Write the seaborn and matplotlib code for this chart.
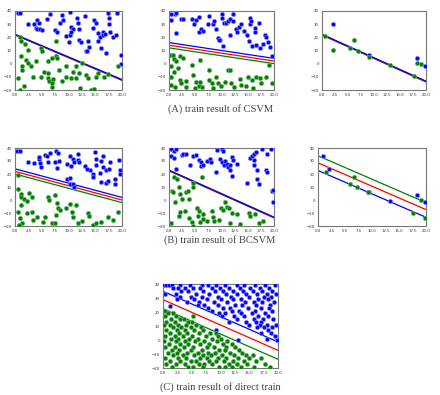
import matplotlib
matplotlib.use("Agg")
import matplotlib.pyplot as plt
import numpy as np
import pandas as pd
import seaborn as sns

# ---- panel (A) left: CSVM, first set ----
a1_blue = [(0.5, 38.2), (0.9, 38.2), (3.5, 29.8), (4.1, 33.1), (4.4, 30.6), (4.0, 27.2),
           (4.2, 26.5), (4.7, 26.0), (5.1, 25.4), (6.5, 37.4), (7.5, 25.7), (7.8, 24.4),
           (8.5, 30.6), (8.7, 36.9), (9.5, 20.9), (10.2, 39.0), (10.0, 16.5), (10.3, 22.1),
           (10.5, 28.0), (10.8, 26.0), (10.5, 24.2), (11.5, 34.9), (11.8, 31.1), (12.0, 26.0),
           (11.9, 18.3), (12.3, 16.3), (13.0, 36.2), (13.6, 17.0), (13.9, 12.4), (14.8, 32.9),
           (15.1, 31.1), (15.5, 23.4), (15.6, 17.0), (15.8, 20.1), (16.4, 23.9), (16.5, 21.6),
           (16.8, 22.6), (17.3, 38.2), (17.5, 34.9), (17.6, 30.3), (17.7, 23.7), (18.4, 20.6),
           (18.8, 22.1), (19.1, 38.2), (19.8, 6.8), (19.8, -0.3), (13.2, 9.9), (13.5, 9.4),
           (16.1, 11.9), (17.1, 8.1), (2.4, 29.8), (9.0, 33.0), (14.5, 27.0), (6.0, 34.0)]
a1_green = [(0.9, 20.1), (1.1, 17.0), (1.9, 15.0), (4.9, 11.9), (5.1, 9.4), (1.1, 5.5),
            (2.1, 3.0), (1.4, -2.1), (1.4, -4.7), (2.4, 0.4), (3.0, -2.1), (3.9, 1.7),
            (3.3, -9.8), (0.6, -11.1), (1.6, -16.7), (0.9, -20.0), (4.9, -9.8), (5.5, -6.0),
            (6.1, -7.2), (6.2, -11.1), (6.4, -13.1), (7.1, -11.8), (7.0, -14.9), (6.9, -17.4),
            (7.7, 5.5), (7.9, 4.3), (7.7, 17.0), (8.3, -4.7), (8.8, -13.1), (9.5, -9.8),
            (9.5, -2.1), (10.5, -11.1), (10.8, -6.0), (11.4, -2.1), (11.4, -11.1), (12.0, -7.2),
            (12.2, -18.7), (12.6, 0.4), (13.3, -8.5), (13.6, -11.1), (14.2, -20.0), (14.7, -19.5),
            (15.1, -9.8), (15.6, -7.2), (16.6, -9.8), (17.3, -8.0), (19.2, -2.1), (7.0, 4.3),
            (2.4, 10.6), (6.1, 1.7)]
a1_lines = [22.3, 22.0, 21.7]   # intercepts blue, red, green
a1_slope = -1.72

# ---- panel (A) middle ----
a2_blue = [(0.3, 38.0), (0.3, 32.9), (1.1, 37.4), (1.4, 38.7), (1.3, 23.4), (2.3, 33.6),
           (2.7, 34.1), (4.4, 33.6), (4.8, 29.8), (5.2, 32.9), (5.8, 35.4), (5.7, 24.2),
           (6.1, 26.0), (6.5, 24.7), (7.6, 36.2), (7.4, 29.8), (8.4, 30.3), (8.6, 32.3),
           (9.0, 26.7), (9.3, 19.6), (9.8, 17.8), (9.5, 17.8), (10.0, 37.4), (10.0, 34.4),
           (10.4, 31.1), (10.9, 31.1), (11.2, 32.3), (11.7, 33.6), (11.6, 22.1), (12.1, 32.3),
           (12.2, 38.0), (12.7, 26.7), (13.0, 24.2), (13.3, 28.0), (13.8, 30.3), (14.3, 24.7),
           (14.9, 22.1), (15.2, 17.5), (15.4, 30.3), (15.5, 34.4), (16.3, 27.2), (16.3, 24.2),
           (15.9, 13.2), (16.5, 13.9), (17.3, 11.9), (17.9, 15.0), (18.2, 22.1), (18.5, 20.1),
           (18.9, 16.5), (19.2, 12.4), (19.7, 5.5), (17.1, 31.1), (15.7, 32.3), (10.3, 13.2)]
a2_green = [(0.3, 6.8), (0.8, 6.3), (0.9, 3.7), (0.4, -1.4), (1.3, 1.7), (2.0, 5.5),
            (2.7, 4.3), (1.7, -3.4), (0.9, -6.0), (0.3, -9.8), (0.4, -16.2), (1.1, -17.4),
            (2.0, -12.3), (2.3, -14.9), (3.3, -13.1), (3.2, -17.4), (4.6, -8.5), (4.9, -18.7),
            (5.2, -13.6), (5.7, -16.7), (5.9, -13.6), (6.3, -17.4), (7.6, -4.7), (7.7, -12.3),
            (8.1, -14.9), (8.4, -18.7), (9.0, -9.8), (9.3, -14.9), (9.9, -16.7), (10.6, -13.6),
            (11.2, -4.7), (11.7, -4.7), (11.9, -14.9), (12.3, -17.4), (13.5, -11.6), (13.8, -16.2),
            (15.0, -9.8), (15.9, -12.3), (16.6, -9.8), (17.3, -11.1), (17.6, -14.9), (18.5, -9.8),
            (19.7, -14.9), (5.9, 3.0), (14.7, -16.7), (16.0, -18.7), (4.3, -0.8), (19.0, -1.0)]
a2_lines = [16.0, 14.0, 12.0]
a2_slope = -0.6

# ---- panel (A) right ----
a3_blue = [(2.2, 30.0), (9.1, 6.3), (18.3, 4.0), (19.9, -1.5)]
a3_green = [(0.6, 20.7), (2.2, 10.2), (6.2, 17.9), (5.4, 12.2), (6.9, 9.6), (9.0, 5.3),
            (13.1, -1.2), (18.2, 0.6), (19.0, 0.1), (17.6, -9.5)]
a3_lines = [22.3, 22.0, 21.7]
a3_slope = -1.78

# ---- panel (B) left ----
b1_blue = [(0.4, 37.5), (1.0, 37.5), (2.4, 29.1), (3.5, 28.3), (4.4, 31.6), (4.7, 28.3),
           (4.9, 25.3), (4.5, 32.9), (5.6, 34.9), (6.0, 34.2), (6.1, 29.1), (6.6, 35.9),
           (7.7, 37.5), (8.0, 35.9), (7.4, 29.1), (8.3, 30.3), (7.9, 24.8), (9.7, 16.4),
           (10.2, 17.1), (9.7, 27.8), (10.8, 31.6), (11.1, 29.1), (11.8, 30.9), (12.0, 29.1),
           (10.3, 34.2), (10.3, 12.6), (10.8, 12.6), (11.1, 10.0), (13.0, 26.5), (14.1, 22.7),
           (14.5, 20.2), (15.1, 31.6), (15.1, 27.3), (16.1, 29.8), (16.4, 25.3), (17.0, 23.2),
           (17.5, 24.0), (16.4, 34.2), (15.8, 20.7), (16.1, 13.8), (17.0, 13.1), (17.3, 14.6),
           (18.6, 12.6), (18.6, 16.4), (19.4, 30.9), (19.6, 22.7), (19.7, 19.7), (13.5, 24.0),
           (11.7, 35.4), (10.5, 25.8), (14.6, 17.6), (15.0, 36.7), (17.8, 29.1)]
b1_green = [(0.6, 18.9), (0.5, 8.8), (1.2, 5.0), (1.1, 2.4), (1.7, 0.4), (2.2, -0.6),
            (1.1, -3.9), (2.7, 5.5), (3.1, 2.4), (0.5, -9.0), (1.0, -14.1), (1.4, -17.9),
            (0.8, -19.2), (2.2, -10.3), (3.1, -9.0), (3.4, -15.4), (4.2, -12.8), (5.2, -16.6),
            (5.6, -13.3), (6.2, 2.4), (6.4, -0.1), (7.4, 3.7), (7.9, -2.2), (8.0, -6.5),
            (7.7, -11.6), (7.0, -17.9), (8.5, -7.8), (9.5, -6.5), (10.2, -2.7), (10.6, -9.0),
            (11.4, -3.9), (10.8, -13.3), (11.7, -17.9), (12.6, -15.9), (13.6, -10.3), (13.9, -12.3),
            (14.5, -19.2), (15.1, -17.9), (16.1, -16.6), (17.3, -12.8), (18.4, -15.4), (19.2, -9.0),
            (7.4, -17.9)]
b1_lines = [24.0, 22.0, 20.0]
b1_slope = -1.1

# ---- panel (B) middle ----
b2_blue = [(0.3, 39.0), (1.0, 37.4), (1.4, 39.0), (0.3, 33.8), (1.0, 32.5), (1.4, 24.0),
           (2.4, 34.3), (2.6, 35.6), (3.3, 35.6), (4.0, 27.3), (4.5, 33.8), (5.1, 34.8),
           (5.8, 30.4), (6.1, 29.1), (6.0, 26.0), (6.5, 27.1), (7.2, 29.7), (7.8, 31.7),
           (8.0, 29.1), (9.1, 38.2), (10.1, 39.0), (10.2, 37.7), (9.7, 31.7), (10.1, 29.1),
           (10.4, 27.1), (10.7, 29.7), (11.0, 27.8), (11.2, 25.3), (11.7, 27.1), (12.0, 33.0),
           (12.2, 30.4), (12.0, 18.8), (12.9, 27.8), (9.0, 21.9), (11.7, 22.7), (14.9, 13.1),
           (15.5, 32.2), (15.8, 33.8), (16.2, 35.6), (16.2, 30.4), (16.5, 36.9), (16.2, 27.1),
           (16.8, 22.7), (16.8, 16.2), (17.1, 12.3), (17.8, 39.0), (18.6, 35.6), (18.4, 22.7),
           (18.7, 21.4), (19.4, 39.0), (19.7, 7.2), (19.9, 8.0), (19.9, -1.4)]
b2_green = [(1.0, 17.5), (0.6, 7.2), (0.8, 5.9), (1.5, 16.2), (1.1, -1.9), (2.1, 4.6),
            (1.9, 10.3), (2.4, 0.7), (3.3, 6.4), (3.7, 6.6), (3.8, 0.7), (4.5, 9.7),
            (6.2, 17.5), (4.6, 12.8), (1.9, -12.2), (2.1, -9.1), (3.0, -8.4), (3.8, -13.5),
            (4.3, -16.9), (0.4, -17.4), (5.3, -6.5), (5.6, -12.2), (5.8, -8.4), (5.9, -16.9),
            (6.4, -14.8), (6.5, -11.0), (7.2, -16.1), (8.1, -8.4), (8.3, -12.8), (8.5, -16.1),
            (9.6, -15.3), (9.9, -6.5), (10.3, -7.6), (10.7, -1.9), (11.0, -5.0), (11.5, -5.8),
            (12.0, -9.7), (12.9, -10.9), (11.7, -17.4), (13.6, -18.7), (15.2, -9.7), (15.5, -12.2),
            (16.3, -10.9), (17.9, -16.1), (17.1, -17.9), (4.6, -20.0)]
b2_lines = [23.0, 22.7, 22.4]
b2_slope = -1.81

# ---- panel (B) right ----
b3_blue = [(0.9, 33.8), (2.0, 24.0), (9.5, 6.4), (13.3, -1.1), (18.4, 3.8), (19.9, -1.4)]
b3_green = [(1.4, 21.4), (6.7, 17.5), (5.9, 12.3), (7.2, 9.7), (9.3, 5.8), (19.1, 0.2),
            (17.6, -9.7), (19.8, -13.5)]
b3_lines = [22.7, 28.6, 34.0]
b3_slope = -1.8

# ---- panel (C): direct train ----
c_blue_rows = {
    39: [0.1, 0.6, 1.0, 1.5, 2.9, 4.7, 6.7, 7.9, 9.3, 10.8, 12.8, 14.0, 16.0, 17.8, 19.4],
    37: [1.7, 2.6, 3.8, 5.2, 6.4, 8.5, 9.9, 11.4, 13.4, 15.2, 16.9, 18.4],
    35: [3.2, 4.4, 7.0, 9.1, 10.4, 12.2, 13.9, 15.6, 17.3, 19.0],
    33: [0.4, 2.2, 5.8, 8.0, 11.0, 12.8, 14.5, 16.3, 18.0, 19.6],
    31: [3.0, 4.9, 6.8, 9.5, 11.8, 15.0, 17.6, 18.8],
    29: [2.4, 5.4, 7.6, 10.0, 12.2, 13.5, 16.6, 18.2],
    27: [4.1, 6.2, 8.8, 11.2, 14.2, 15.8, 17.2, 19.3],
    25: [6.0, 7.2, 9.6, 12.6, 13.8, 16.2, 18.6],
    24: [1.3],
    23: [7.8, 10.4, 11.6, 14.8, 17.0, 18.4],
    21: [8.6, 12.0, 13.2, 16.0, 19.0],
    19: [9.8, 10.8, 13.6, 15.4, 17.8],
    17: [10.2, 12.4, 14.0, 16.6, 18.2],
    15: [12.8, 15.8, 17.4, 19.2],
    13: [11.4, 14.4, 16.2, 17.0],
    11: [15.0, 16.8, 18.0, 19.6],
    9: [16.4, 17.6, 19.0],
    7: [9.2, 18.2],
    5: [17.0, 18.8],
    3: [19.4],
    1: [18.0],
    0: [13.0, 19.8],
}
c_green_rows = {
    21: [0.3],
    19: [0.8, 1.8],
    17.5: [5.3],
    17: [0.3, 2.2],
    15: [1.4, 3.0, 3.6],
    13: [0.5, 2.0, 4.4, 5.0],
    11: [0.2, 1.2, 2.6, 4.0, 5.8],
    9: [1.8, 3.2, 4.8, 6.6],
    7: [0.6, 2.4, 3.8, 5.4, 7.0],
    5: [1.2, 2.8, 4.2, 6.2, 8.2, 9.2],
    3: [0.4, 2.0, 3.4, 5.0, 7.4, 9.6],
    1: [1.4, 2.6, 4.6, 6.0, 8.6, 10.0],
    -1: [0.2, 2.2, 3.8, 5.6, 7.2, 9.4, 11.2],
    -3: [1.0, 3.0, 4.4, 6.4, 8.0, 10.4, 12.0],
    -5: [0.4, 2.0, 3.6, 5.2, 7.6, 8.8, 11.0, 12.6],
    -7: [1.6, 2.8, 4.8, 6.8, 9.8, 10.8, 13.2],
    -9: [0.8, 2.4, 4.2, 6.0, 7.8, 9.0, 11.6, 13.8],
    -11: [1.8, 3.4, 5.4, 7.0, 8.4, 10.2, 12.4, 14.4, 15.6],
    -13: [0.4, 2.6, 4.0, 6.4, 7.6, 9.6, 11.0, 13.0, 15.0, 17.0],
    -15: [1.2, 3.0, 4.8, 5.8, 8.0, 9.2, 10.6, 12.2, 14.0, 16.2],
    -17: [0.6, 2.2, 3.8, 6.2, 7.2, 8.6, 11.4, 12.8, 14.6, 17.8],
    -19: [1.6, 4.4, 5.2, 7.0, 9.8, 10.8, 12.0, 13.6, 15.8, 18.6],
}
c_lines = [34.8, 28.8, 22.4]
c_slope = -1.81

captions = ["(A) train result of CSVM", "(B) train result of BCSVM",
            "(C) train result of direct train"]

W, H = 440, 395


def rows_to_points(rows):
    return [(x, y) for y, xs in rows.items() for x in xs]


def draw_panel(fig, box, blue, green, intercepts, slope):
    l, r, t, b = box
    ax = fig.add_axes([l / W, 1 - b / H, (r - l) / W, (b - t) / H])
    xs = np.array([0.0, 20.0])
    # green, red, blue so blue sits on top where they overlap
    for c, b0 in zip(["g", "r", "b"], intercepts[::-1]):
        sns.lineplot(x=xs, y=b0 + slope * xs, color=c, lw=0.9, ax=ax)
    for pts, c, ec in [(blue, "b", "#8080ff"), (green, "g", "#66b366")]:
        df = pd.DataFrame(pts, columns=["x", "y"])
        sns.scatterplot(data=df, x="x", y="y", color=c, s=9, edgecolor=ec,
                        linewidth=0.5, ax=ax, zorder=3)
    ax.set_xlim(0, 20)
    ax.set_ylim(-20, 40)
    ax.set_xticks(np.arange(0, 20.1, 2.5))
    ax.set_xticklabels([f"{v:.1f}" for v in np.arange(0, 20.1, 2.5)])
    ax.set_yticks(np.arange(-20, 41, 10))
    ax.set_xlabel("")
    ax.set_ylabel("")
    ax.tick_params(labelsize=2.8, length=1.2, width=0.4, pad=1, colors="#333")
    for s in ax.spines.values():
        s.set_color("#777")
        s.set_linewidth(0.8)
    return ax


sns.set_style("white")
fig = plt.figure(figsize=(4.4, 3.95), dpi=100)

draw_panel(fig, (15, 122, 11, 90), a1_blue, a1_green, a1_lines, a1_slope)
draw_panel(fig, (169, 274, 11, 90), a2_blue, a2_green, a2_lines, a2_slope)
draw_panel(fig, (322, 426, 11, 90), a3_blue, a3_green, a3_lines, a3_slope)
draw_panel(fig, (15, 122, 148, 226), b1_blue, b1_green, b1_lines, b1_slope)
draw_panel(fig, (169, 274, 148, 226), b2_blue, b2_green, b2_lines, b2_slope)
draw_panel(fig, (318, 426, 148, 226), b3_blue, b3_green, b3_lines, b3_slope)
draw_panel(fig, (163, 278, 284, 368), rows_to_points(c_blue_rows),
           rows_to_points(c_green_rows), c_lines, c_slope)

for txt, y in zip(captions, [109, 240, 387]):
    fig.text(0.5, 1 - y / H, txt, ha="center", va="center", fontsize=7.5,
             family=["Liberation Serif", "DejaVu Serif"], color="#444")

fig.savefig("out.png", dpi=100)
plt.close(fig)
